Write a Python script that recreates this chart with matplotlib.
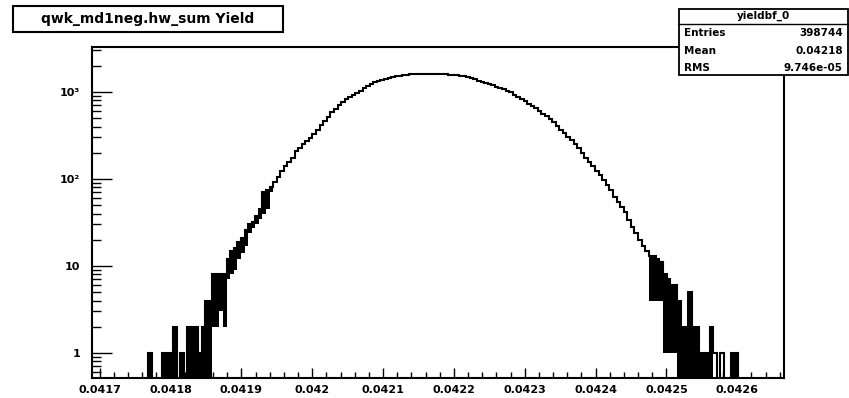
"""ROOT style log-y histogram: qwk_md1neg.hw_sum Yield."""
import numpy as np
import matplotlib
matplotlib.use("Agg")
import matplotlib.pyplot as plt
from matplotlib.patches import Rectangle
from matplotlib.ticker import FixedLocator, MultipleLocator, LogLocator, FuncFormatter

# --- data ---
TITLE = "qwk_md1neg.hw_sum Yield"
HIST_NAME = "yieldbf_0"
STATS = [("Entries", "398744"), ("Mean", "0.04218"), ("RMS", "9.746e-05")]

BIN_START = 0.041768
BIN_WIDTH = 5.05e-6
# upper envelope of each (coarse) bin
COUNTS = [
    1, 0, 0, 0, 1, 1, 1, 2, 0, 1,
    0, 2, 2, 2, 1, 2, 4, 4, 8, 8,
    8, 8, 12, 15, 16, 19, 21, 26, 30, 32,
    38, 45, 70, 75, 80, 92, 105, 125, 140, 155,
    175, 210, 230, 250, 270, 295, 330, 370, 420, 460,
    520, 590, 630, 700, 760, 820, 880, 930, 980, 1040,
    1110, 1160, 1220, 1290, 1350, 1390, 1420, 1450, 1480, 1510,
    1540, 1570, 1580, 1590, 1600, 1610, 1600, 1610, 1600, 1610,
    1600, 1600, 1590, 1600, 1580, 1570, 1560, 1540, 1510, 1490,
    1450, 1400, 1350, 1310, 1270, 1230, 1190, 1150, 1110, 1070,
    1030, 990, 930, 870, 820, 780, 730, 690, 650, 610,
    560, 530, 490, 450, 410, 370, 340, 305, 280, 250,
    225, 200, 175, 158, 140, 125, 110, 98, 85, 75,
    62, 55, 48, 42, 34, 28, 24, 20, 17, 15,
    13, 13, 12, 11, 8, 7, 6, 6, 4, 2,
    2, 5, 2, 2, 1, 1, 1, 2, 1, 0,
    1, 0, 0, 1, 1,
]
# lower envelope of the bin-to-bin fluctuation in the tails (0 = down to the frame)
LOW_LEFT = [
    0, 0, 0, 0, 0, 0, 0, 0, 0, 0,
    0, 0, 0, 0, 0, 0, 0, 0, 2, 2,
    3, 2, 7, 8, 9, 12, 14, 17, 24, 27,
    30, 35, 40, 45, 70,
]
LOW_RIGHT = [
    4, 4, 4, 4, 1, 1, 1, 1, 0, 0,
    0, 0, 0, 0, 0, 0, 0, 0, 1, 0,
    1, 0, 0, 0, 0,
]
X_RANGE = (0.041689, 0.042666)
Y_RANGE = (0.516, 3290)
X_MAJOR = [0.0417, 0.0418, 0.0419, 0.0420, 0.0421, 0.0422, 0.0423, 0.0424, 0.0425, 0.0426]
Y_LABELS = {1: "1", 10: "10", 100: "10\u00b2", 1000: "10\u00b3"}

plt.rcParams["font.family"] = ["DejaVu Sans"]

W, H = 849, 398
fig = plt.figure(figsize=(W / 100, H / 100), dpi=100)
ax = fig.add_axes([92 / W, 1 - 378 / H, (784 - 92) / W, (378 - 47) / H])

floor = 1e-2  # empty bins drop below the frame, as in ROOT
counts = np.array(COUNTS, dtype=float)
edges = BIN_START + BIN_WIDTH * np.arange(len(counts) + 1)
low = counts.copy()
low[:len(LOW_LEFT)] = LOW_LEFT
low[len(counts) - len(LOW_RIGHT):] = LOW_RIGHT
low = np.where(low > 0, low, floor)
top = np.where(counts > 0, counts, floor)

ax.stairs(top, edges, baseline=low, fill=True, color="black", lw=0)
ax.stairs(top, edges, baseline=floor, color="black", lw=1.5)

ax.set_yscale("log")
ax.set_xlim(*X_RANGE)
ax.set_ylim(*Y_RANGE)

ax.xaxis.set_major_locator(FixedLocator(X_MAJOR))
ax.xaxis.set_minor_locator(MultipleLocator(2e-5))
ax.xaxis.set_major_formatter(FuncFormatter(lambda v, p: f"{v:g}"))
ax.yaxis.set_major_locator(FixedLocator(list(Y_LABELS)))
ax.yaxis.set_minor_locator(LogLocator(base=10, subs=np.arange(2, 10)))
ax.yaxis.set_major_formatter(FuncFormatter(lambda v, p: Y_LABELS.get(int(round(v)), "")))
ax.yaxis.set_minor_formatter(FuncFormatter(lambda v, p: ""))

ax.tick_params(axis="x", which="major", direction="in", length=7.2, width=1.0,
               pad=5, labelsize=8)
ax.tick_params(axis="x", which="minor", direction="in", length=4, width=1.0)
ax.tick_params(axis="y", which="major", direction="in", length=14.4, width=1.0,
               pad=8.6, labelsize=8)
ax.tick_params(axis="y", which="minor", direction="in", length=6.5, width=1.0)
for lab in ax.get_xticklabels() + ax.get_yticklabels():
    lab.set_fontweight("bold")
for s in ax.spines.values():
    s.set_linewidth(1.5)

# title pave
fig.add_artist(Rectangle((13 / W, 1 - 32 / H), 270 / W, 26 / H, transform=fig.transFigure,
                         facecolor="white", edgecolor="black", lw=1.5, zorder=5))
fig.text(148 / W, 1 - 19 / H, TITLE, ha="center", va="center", fontsize=10,
         fontweight="bold", zorder=6)

# stats box
bx0, bx1, by0, by1 = 679, 848, 9, 75
fig.add_artist(Rectangle((bx0 / W, 1 - by1 / H), (bx1 - bx0) / W, (by1 - by0) / H,
                         transform=fig.transFigure, facecolor="white",
                         edgecolor="black", lw=1.3, zorder=5))
fig.add_artist(plt.Line2D([bx0 / W, bx1 / W], [1 - 24 / H, 1 - 24 / H],
                          transform=fig.transFigure, color="black", lw=1.0, zorder=6))
fig.text((bx0 + bx1) / 2 / W, 1 - 16 / H, HIST_NAME, ha="center", va="center",
         fontsize=7.5, fontweight="bold", zorder=6)
for (name, val), yy in zip(STATS, [33, 51, 68]):
    fig.text(684 / W, 1 - yy / H, name, ha="left", va="center", fontsize=7.5,
             fontweight="bold", zorder=6)
    fig.text(843 / W, 1 - yy / H, val, ha="right", va="center", fontsize=7.5,
             fontweight="bold", zorder=6)

fig.savefig("out.png", dpi=100)
